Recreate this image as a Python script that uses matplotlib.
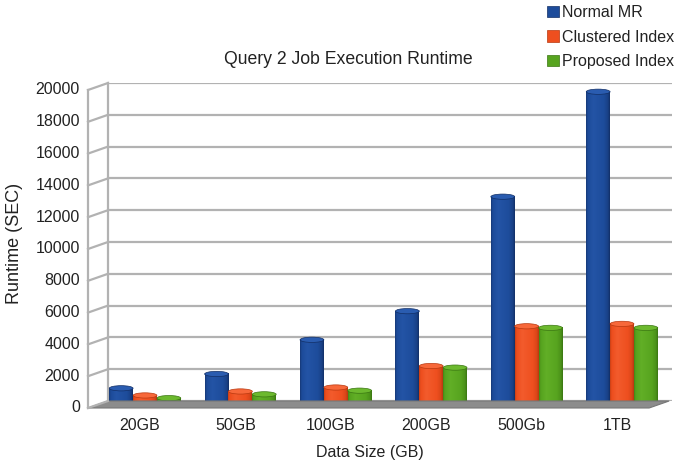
import numpy as np
import matplotlib.pyplot as plt
import matplotlib.transforms as mtransforms
from matplotlib.patches import Ellipse, Polygon, Patch
from matplotlib.lines import Line2D
from matplotlib.colors import LinearSegmentedColormap

plt.rcParams['font.family'] = ['Liberation Sans', 'DejaVu Sans']

sizes = ['20GB', '50GB', '100GB', '200GB', '500Gb', '1TB']
normal_mr = [800, 1700, 3850, 5650, 12850, 19450]
clustered = [350, 600, 850, 2200, 4700, 4850]
proposed = [180, 420, 650, 2100, 4600, 4600]
series = ['Normal MR', 'Clustered Index', 'Proposed Index']
yticks = list(range(0, 20001, 2000))

# (base, dark edge, highlight)
colors = [('#1d4c9b', '#122f66', '#2a5cb0'),
          ('#ee4f1f', '#b8380f', '#f7683a'),
          ('#57a41f', '#3a7612', '#6cb92e')]

fig = plt.figure(figsize=(6.78, 4.66), dpi=100)
W, H = 678, 466
ax = fig.add_axes([108 / W, (H - 401) / H, (672 - 108) / W, (401 - 83) / H])
xmin, xmax = -0.388, 5.524
ax.set_xlim(xmin, xmax)
ax.set_ylim(0, 20000)

ax.set_yticks(yticks)
ax.yaxis.grid(True, color='#b2b2b2', lw=1.6, zorder=0)
ax.set_yticklabels([])
ax.set_xticks([])
ax.tick_params(length=0)
for s in ['top', 'right', 'bottom']:
    ax.spines[s].set_visible(False)
ax.spines['left'].set_color('#b2b2b2')
ax.spines['left'].set_linewidth(1.6)

# depth offset of the front edge (pixels)
dx, dy = -20, -7
ident = mtransforms.IdentityTransform()

# left side wall
for v in yticks:
    bx, by = ax.transData.transform((xmin, v))
    fig.add_artist(Line2D([bx, bx + dx], [by, by + dy], color='#b2b2b2',
                          lw=1.6, transform=ident))
b0 = ax.transData.transform((xmin, 0))
b1 = ax.transData.transform((xmin, 20000))
fig.add_artist(Line2D([b0[0] + dx, b1[0] + dx], [b0[1] + dy, b1[1] + dy],
                      color='#b2b2b2', lw=1.6, transform=ident))

# floor
fl = ax.transData.transform((xmin, 0))
fr = ax.transData.transform((xmax - 0.03, 0))
floor = Polygon([(fl[0], fl[1]), (fr[0], fr[1]), (fr[0] + dx, fr[1] + dy),
                 (fl[0] + dx, fl[1] + dy)], closed=True, facecolor='#8c8c8c',
                edgecolor='#777777', lw=0.8, transform=ident)
fig.add_artist(floor)

# y tick labels at the front edge
lab_tr = ax.get_yaxis_transform() + mtransforms.ScaledTranslation(
    -0.28, -0.07, fig.dpi_scale_trans)
for v in yticks:
    ax.text(0, v, str(v), transform=lab_tr, ha='right', va='center',
            fontsize=11.5, color='#222222', clip_on=False)

# cylinder-looking bars
prof = np.linspace(0, 1, 80)
shade = np.interp(prof, [0, 0.06, 0.3, 0.75, 0.92, 1.0],
                  [0.15, 0.45, 0.75, 0.5, 0.3, 0.0])
w = 0.25
for k, vals in enumerate([normal_mr, clustered, proposed]):
    base, dark, light = colors[k]
    cmap = LinearSegmentedColormap.from_list('c%d' % k, [dark, base, light])
    for i, v in enumerate(vals):
        x = i + (k - 1) * w
        ax.bar(x, v, w, color=base, zorder=3)
        ax.imshow(shade[None, :], cmap=cmap, vmin=0, vmax=1, aspect='auto',
                  extent=[x - w / 2, x + w / 2, 0, v], zorder=3.1,
                  interpolation='bilinear')
        ax.add_patch(Ellipse((x, v), w, 330, facecolor=light, edgecolor=dark,
                             lw=0.5, zorder=3.2))
ax.set_xlim(xmin, xmax)
ax.set_ylim(0, 20000)
ax.patch.set_alpha(0)

# x tick labels
xl_tr = ax.get_xaxis_transform() + mtransforms.ScaledTranslation(
    -0.05, -0.25, fig.dpi_scale_trans)
for i, s in enumerate(sizes):
    ax.text(i, 0, s, transform=xl_tr, ha='center', va='center',
            fontsize=11.5, color='#222222', clip_on=False)

fig.text(348 / W, 1 - 60 / H, 'Query 2 Job Execution Runtime', ha='center',
         va='center', fontsize=12.7, color='#222222')
fig.text(370 / W, 1 - 453 / H, 'Data Size (GB)', ha='center', va='center',
         fontsize=11.5, color='#222222')
fig.text(15 / W, 1 - 243 / H, 'Runtime (SEC)', ha='center', va='center',
         rotation=90, fontsize=13, color='#222222')

handles = [Patch(facecolor=c[0], edgecolor=c[1], lw=0.5) for c in colors]
fig.legend(handles, series, loc='upper left',
           bbox_to_anchor=(547 / W, 1 - 5 / H), frameon=False,
           borderpad=0, borderaxespad=0, handlelength=0.75,
           handleheight=0.75, handletextpad=0.2, labelspacing=0.6,
           fontsize=11.5, labelcolor='#222222')

fig.savefig('out.png', dpi=100)
